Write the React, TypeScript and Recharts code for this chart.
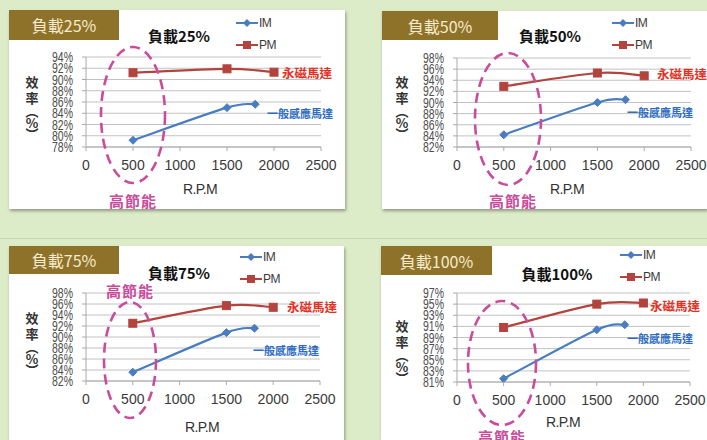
import React from 'react';
import { LineChart, Line, XAxis, YAxis, CartesianGrid, Legend } from 'recharts';

// ---- data ----
const rpmIM = [500, 1500, 1800];
const rpmPM = [500, 1500, 2000];
const load25IM = [79.2, 85.0, 85.6];
const load25PM = [91.2, 91.9, 91.3];
const load50IM = [84.2, 90.0, 90.5];
const load50PM = [92.9, 95.3, 94.8];
const load75IM = [83.6, 90.8, 91.6];
const load75PM = [92.5, 95.7, 95.4];
const load100IM = [81.6, 90.4, 91.3];
const load100PM = [90.8, 95.0, 95.2];
const xTicks = [0, 500, 1000, 1500, 2000, 2500];
const yTicks25 = [78, 80, 82, 84, 86, 88, 90, 92, 94];
const yTicks50 = [82, 84, 86, 88, 90, 92, 94, 96, 98];
const yTicks75 = [82, 84, 86, 88, 90, 92, 94, 96, 98];
const yTicks100 = [81, 83, 85, 87, 89, 91, 93, 95, 97];
const loadLabels = ['負載25%', '負載50%', '負載75%', '負載100%'];
const seriesNames = ['IM', 'PM'];
const pmNote = '永磁馬達';
const imNote = '一般感應馬達';
const saveNote = '高節能';
const xTitle = 'R.P.M';
const yTitleChars = ['效', '率', '︵', '%', '︶'];

const IM_COLOR = '#4a7dc0';
const PM_COLOR = '#b3433d';
const PINK = '#c94c9c';
const CJK = '"Noto Sans CJK TC", "Noto Sans CJK SC", sans-serif';
const LAT = '"Liberation Sans", Arial, sans-serif';

// Excel-like smoothed line (Catmull-Rom through the points)
const smoothCurve: any = (context: any) => {
  let pts: number[][] = [];
  return {
    areaStart() {},
    areaEnd() {},
    lineStart() { pts = []; },
    point(x: number, y: number) { pts.push([+x, +y]); },
    lineEnd() {
      if (!pts.length) return;
      context.moveTo(pts[0][0], pts[0][1]);
      for (let i = 0; i < pts.length - 1; i++) {
        const p0 = pts[i - 1] || pts[i];
        const p1 = pts[i];
        const p2 = pts[i + 1];
        const p3 = pts[i + 2] || p2;
        context.bezierCurveTo(
          p1[0] + (p2[0] - p0[0]) / 6, p1[1] + (p2[1] - p0[1]) / 6,
          p2[0] - (p3[0] - p1[0]) / 6, p2[1] - (p3[1] - p1[1]) / 6,
          p2[0], p2[1],
        );
      }
    },
  };
};

type Cfg = {
  box: number[]; tag: number[]; plot: number[]; title: number[]; legend: number[];
  pmAnno: number[]; imAnno: number[]; ell: number[]; save: number[]; xt: number[]; yt: number[];
};

const layouts: Cfg[] = [
  { box: [9, 10, 336, 199], tag: [9, 10, 110, 30], plot: [86, 321, 57, 147], title: [179, 35], legend: [236, 23],
    pmAnno: [282, 72], imAnno: [267, 113], ell: [133, 115, 32, 68], save: [133, 200], xt: [200, 189], yt: [32, 81] },
  { box: [382, 11, 325, 198], tag: [382, 11, 116, 29], plot: [457, 691, 58, 147], title: [550, 35], legend: [612, 23],
    pmAnno: [657, 73], imAnno: [627, 112], ell: [508, 119, 33, 66], save: [513, 200], xt: [567, 189], yt: [402, 81] },
  { box: [9, 246, 335, 194], tag: [9, 246, 110, 28], plot: [86, 320, 293, 381], title: [179, 272], legend: [240, 257],
    pmAnno: [287, 306], imAnno: [253, 350], ell: [130, 360, 26, 58], save: [130, 290], xt: [202, 427], yt: [32, 317] },
  { box: [381, 246, 326, 194], tag: [381, 246, 111, 29], plot: [457, 690, 293, 382], title: [557, 273], legend: [620, 255],
    pmAnno: [650, 305], imAnno: [627, 338], ell: [502, 363, 34, 62], save: [502, 436], xt: [563, 422], yt: [402, 325] },
];

const panelData = [
  { im: load25IM, pm: load25PM, yTicks: yTicks25 },
  { im: load50IM, pm: load50PM, yTicks: yTicks50 },
  { im: load75IM, pm: load75PM, yTicks: yTicks75 },
  { im: load100IM, pm: load100PM, yTicks: yTicks100 },
];

const Y_AXIS_W = 45;
const X_AXIS_H = 30;

const YTick = (props: any) => {
  const { x, y, payload } = props;
  return (
    <text x={x} y={y} dy={5} textAnchor="end" fontSize={14.5} fill="#4d4d4d" fontFamily={LAT}
      textLength={21} lengthAdjust="spacingAndGlyphs">{`${payload.value}%`}</text>
  );
};

const XTick = (props: any) => {
  const { x, y, payload } = props;
  return (
    <text x={x} y={y} dy={11} textAnchor="middle" fontSize={14} fill="#3a3a3a" fontFamily={LAT}>{payload.value}</text>
  );
};

const diamond = (p: any) => {
  const { cx, cy, index } = p;
  if (cx == null || cy == null) return <g key={`d${index}`} />;
  const s = 4;
  return <path key={`d${index}`} d={`M${cx},${cy - s}L${cx + s},${cy}L${cx},${cy + s}L${cx - s},${cy}Z`} fill={IM_COLOR} stroke={IM_COLOR} />;
};
const square = (p: any) => {
  const { cx, cy, index } = p;
  if (cx == null || cy == null) return <g key={`s${index}`} />;
  const s = 4;
  return <rect key={`s${index}`} x={cx - s} y={cy - s} width={2 * s} height={2 * s} fill={PM_COLOR} stroke={PM_COLOR} />;
};

const LegendContent = () => (
  <div style={{ display: 'flex', flexDirection: 'column' }}>
    {seriesNames.map((name, i) => {
      const c = i === 0 ? IM_COLOR : PM_COLOR;
      return (
        <div key={name} style={{ display: 'flex', alignItems: 'center', height: 22 }}>
          <svg width={23} height={12}>
            <line x1={0} y1={6} x2={22} y2={6} stroke={c} strokeWidth={2} />
            {i === 0
              ? <path d="M11,2L15,6L11,10L7,6Z" fill={c} />
              : <rect x={7} y={2} width={8} height={8} fill={c} />}
          </svg>
          <span style={{ fontSize: 12, color: '#3a3a3a', fontFamily: LAT, letterSpacing: -0.5 }}>{name}</span>
        </div>
      );
    })}
  </div>
);

function Panel({ cfg, d }: { cfg: Cfg; d: typeof panelData[0] }) {
  const [bl, bt, bw, bh] = cfg.box;
  const [pl, pr, pt, pb] = cfg.plot;
  const margin = {
    left: pl - bl - Y_AXIS_W,
    right: bl + bw - pr,
    top: pt - bt,
    bottom: bt + bh - pb - X_AXIS_H,
  };
  const imData = rpmIM.map((r, i) => ({ rpm: r, eff: d.im[i] }));
  const pmData = rpmPM.map((r, i) => ({ rpm: r, eff: d.pm[i] }));
  const yDomain = [d.yTicks[0], d.yTicks[d.yTicks.length - 1]];
  return (
    <div style={{ position: 'absolute', left: bl, top: bt, width: bw, height: bh }}>
      <LineChart width={bw} height={bh} margin={margin}>
        <CartesianGrid vertical={false} stroke="#c2c2c2" />
        <XAxis type="number" dataKey="rpm" domain={[0, 2500]} ticks={xTicks} interval={0} height={X_AXIS_H}
          tick={<XTick />} tickSize={4} tickMargin={8} stroke="#aaaaaa" allowDataOverflow />
        <YAxis type="number" domain={yDomain} ticks={d.yTicks} interval={0} width={Y_AXIS_W}
          tick={<YTick />} tickSize={4} tickMargin={9} stroke="#aaaaaa" allowDataOverflow />
        <Line name={seriesNames[0]} data={imData} dataKey="eff" type={smoothCurve} stroke={IM_COLOR} strokeWidth={2.2}
          dot={diamond} activeDot={false} isAnimationActive={false} />
        <Line name={seriesNames[1]} data={pmData} dataKey="eff" type={smoothCurve} stroke={PM_COLOR} strokeWidth={2.2}
          dot={square} activeDot={false} isAnimationActive={false} />
        <Legend layout="horizontal" verticalAlign="middle" align="center" content={<LegendContent />}
          wrapperStyle={{ left: cfg.legend[0] - bl, top: cfg.legend[1] - bt - 11, width: 'auto', height: 'auto' }} />
      </LineChart>
    </div>
  );
}

export default function App() {
  return (
    <div style={{ position: 'absolute', left: 0, top: 0, width: 707, height: 440, overflow: 'hidden', background: '#dcebc8' }}>
      <div style={{ position: 'absolute', left: 0, top: 238, width: 707, height: 1, background: '#c8d8b4' }} />
      {layouts.map((cfg, i) => (
        <div key={`b${i}`} style={{
          position: 'absolute', left: cfg.box[0], top: cfg.box[1], width: cfg.box[2], height: cfg.box[3],
          background: '#ffffff', boxShadow: '1px 2px 3px rgba(0,0,0,0.35)',
        }} />
      ))}
      {layouts.map((cfg, i) => (
        <div key={`t${i}`} style={{
          position: 'absolute', left: cfg.tag[0], top: cfg.tag[1], width: cfg.tag[2], height: cfg.tag[3],
          background: '#8f7229', color: '#f4ebcd', fontFamily: CJK, fontSize: 16, display: 'flex',
          alignItems: 'center', justifyContent: 'center', letterSpacing: 0,
        }}>{loadLabels[i]}</div>
      ))}
      {layouts.map((cfg, i) => <Panel key={`p${i}`} cfg={cfg} d={panelData[i]} />)}
      <svg width={707} height={440} style={{ position: 'absolute', left: 0, top: 0, pointerEvents: 'none' }}>
        {layouts.map((cfg, i) => (
          <g key={`o${i}`}>
            <text x={cfg.title[0]} y={cfg.title[1]} dominantBaseline="central" textAnchor="middle" fontFamily={CJK}
              fontWeight="bold" fontSize={15} fill="#111">{loadLabels[i]}</text>
            <text x={cfg.pmAnno[0]} y={cfg.pmAnno[1]} dominantBaseline="central" fontFamily={CJK} fontWeight="bold"
              fontSize={12.5} fill="#e2321f">{pmNote}</text>
            <text x={cfg.imAnno[0]} y={cfg.imAnno[1]} dominantBaseline="central" fontFamily={CJK} fontWeight="bold"
              fontSize={11} fill="#2f6cc4">{imNote}</text>
            <ellipse cx={cfg.ell[0]} cy={cfg.ell[1]} rx={cfg.ell[2]} ry={cfg.ell[3]} fill="none" stroke={PINK}
              strokeWidth={2.6} strokeDasharray="10 6" />
            <text x={cfg.save[0]} y={cfg.save[1]} dominantBaseline="central" textAnchor="middle" fontFamily={CJK}
              fontWeight="bold" fontSize={15} fill={PINK} letterSpacing={1}>{saveNote}</text>
            <text x={cfg.xt[0]} y={cfg.xt[1]} dominantBaseline="central" textAnchor="middle" fontFamily={LAT}
              fontSize={14} fill="#333" letterSpacing={-0.6}>{xTitle}</text>
            {yTitleChars.map((ch, k) => (
              <text key={k} x={cfg.yt[0]} y={cfg.yt[1] + [0, 16, 29, 41, 52][k]} dominantBaseline="central"
                textAnchor="middle" fontFamily={CJK} fontWeight="bold" fontSize={13} fill="#333">{ch}</text>
            ))}
          </g>
        ))}
      </svg>
    </div>
  );
}
